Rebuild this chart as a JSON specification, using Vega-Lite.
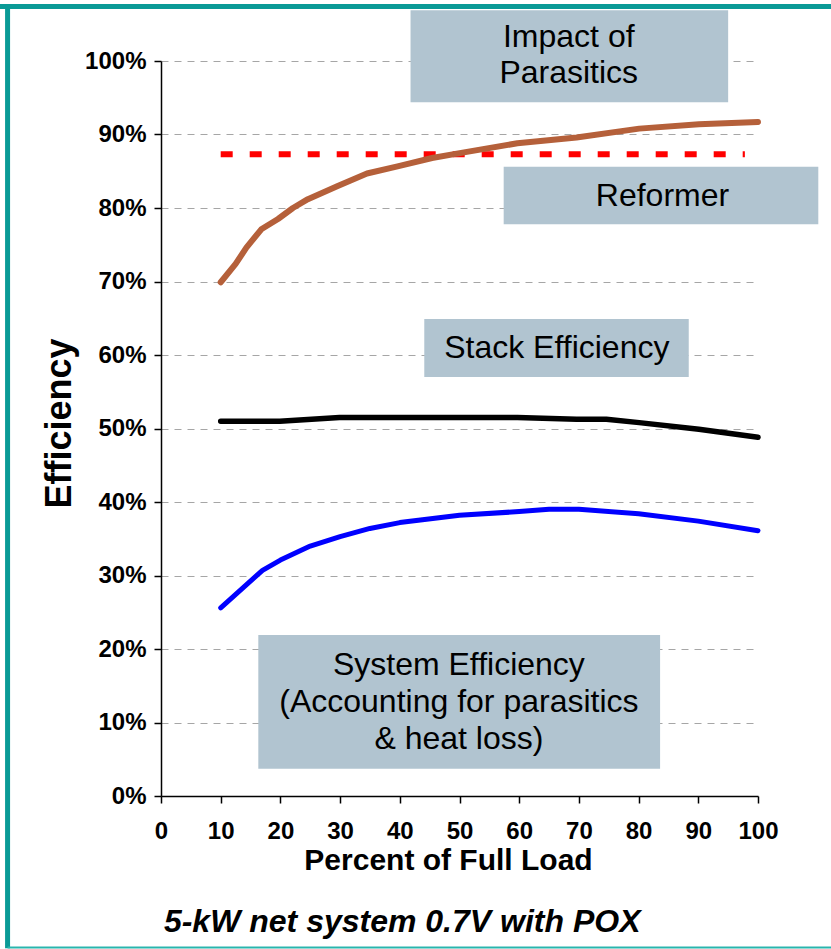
{
  "$schema": "https://vega.github.io/schema/vega-lite/v6.json",
  "width": 597,
  "height": 735,
  "autosize": {"type": "none"},
  "padding": {"left": 161, "top": 61, "right": 73, "bottom": 153},
  "background": "white",
  "config": {
    "view": {"stroke": null},
    "font": "Liberation Sans",
    "axis": {
      "labelFont": "Liberation Sans",
      "labelFontWeight": "bold",
      "labelFontSize": 24,
      "labelColor": "black",
      "domainColor": "black",
      "domainWidth": 1.5,
      "tickColor": "black",
      "tickWidth": 1.5,
      "tickSize": 7,
      "titleFont": "Liberation Sans",
      "titleFontWeight": "bold",
      "titleColor": "black"
    }
  },
  "datasets": {
    "series": [
      {"series": "Reformer", "load": 10, "eff": 69.9},
      {"series": "Reformer", "load": 12.5, "eff": 72.4},
      {"series": "Reformer", "load": 14.3, "eff": 74.6},
      {"series": "Reformer", "load": 16.8, "eff": 77.1},
      {"series": "Reformer", "load": 19.6, "eff": 78.5},
      {"series": "Reformer", "load": 22.1, "eff": 80.0},
      {"series": "Reformer", "load": 24.6, "eff": 81.2},
      {"series": "Reformer", "load": 29.6, "eff": 83.0},
      {"series": "Reformer", "load": 34.5, "eff": 84.7},
      {"series": "Reformer", "load": 39.8, "eff": 85.7},
      {"series": "Reformer", "load": 45.4, "eff": 86.8},
      {"series": "Reformer", "load": 51.0, "eff": 87.6},
      {"series": "Reformer", "load": 59.7, "eff": 88.8},
      {"series": "Reformer", "load": 69.6, "eff": 89.6},
      {"series": "Reformer", "load": 80.1, "eff": 90.8},
      {"series": "Reformer", "load": 90.1, "eff": 91.4},
      {"series": "Reformer", "load": 100, "eff": 91.7},
      {"series": "Stack", "load": 10, "eff": 51.0},
      {"series": "Stack", "load": 19.9, "eff": 51.0},
      {"series": "Stack", "load": 29.9, "eff": 51.5},
      {"series": "Stack", "load": 59.7, "eff": 51.5},
      {"series": "Stack", "load": 69.6, "eff": 51.25},
      {"series": "Stack", "load": 74.6, "eff": 51.25},
      {"series": "Stack", "load": 80.1, "eff": 50.8},
      {"series": "Stack", "load": 90.1, "eff": 49.9},
      {"series": "Stack", "load": 100, "eff": 48.8},
      {"series": "System", "load": 10, "eff": 25.6},
      {"series": "System", "load": 17, "eff": 30.7},
      {"series": "System", "load": 20, "eff": 32.1},
      {"series": "System", "load": 25, "eff": 34.0},
      {"series": "System", "load": 30, "eff": 35.3},
      {"series": "System", "load": 35, "eff": 36.4},
      {"series": "System", "load": 40, "eff": 37.2},
      {"series": "System", "load": 50, "eff": 38.2},
      {"series": "System", "load": 60, "eff": 38.7},
      {"series": "System", "load": 65, "eff": 39.0},
      {"series": "System", "load": 70, "eff": 39.0},
      {"series": "System", "load": 80, "eff": 38.4},
      {"series": "System", "load": 90, "eff": 37.4},
      {"series": "System", "load": 100, "eff": 36.1}
    ],
    "reformerTarget": [
      {"load": 10, "eff": 87.3},
      {"load": 97.8, "eff": 87.3}
    ],
    "boxes": [
      {"box": "Impact", "x1": 41.8, "x2": 95.0, "y1": 106.9, "y2": 94.4},
      {"box": "Reformer", "x1": 57.4, "x2": 110.1, "y1": 85.6, "y2": 77.8},
      {"box": "Stack", "x1": 44.1, "x2": 88.4, "y1": 64.9, "y2": 57.0},
      {"box": "System", "x1": 16.3, "x2": 83.6, "y1": 21.9, "y2": 3.7}
    ],
    "labels": [
      {"text": "Impact of", "x": 68.3, "y": 103.2},
      {"text": "Parasitics", "x": 68.3, "y": 98.4},
      {"text": "Reformer", "x": 84.0, "y": 81.7},
      {"text": "Stack Efficiency", "x": 66.3, "y": 60.9},
      {"text": "System Efficiency", "x": 49.9, "y": 17.8},
      {"text": "(Accounting for parasitics", "x": 49.9, "y": 12.8},
      {"text": "& heat loss)", "x": 49.9, "y": 7.8}
    ],
    "caption": [
      {"text": "5-kW net system 0.7V with POX", "x": 40.4, "y": -18.5}
    ]
  },
  "layer": [
    {
      "data": {"values": [{}]},
      "mark": {"type": "rule", "color": "#0a9a96", "strokeWidth": 5},
      "encoding": {
        "x": {"datum": -27.0, "type": "quantitative", "scale": {"domain": [0, 100], "nice": false}},
        "x2": {"datum": 112.4},
        "y": {"datum": 107.4, "type": "quantitative", "scale": {"domain": [0, 100], "nice": false}}
      }
    },
    {
      "data": {"values": [{}]},
      "mark": {"type": "rule", "color": "#0a9a96", "strokeWidth": 5},
      "encoding": {
        "x": {"datum": -25.7, "type": "quantitative"},
        "y": {"datum": 107.7, "type": "quantitative"},
        "y2": {"datum": -20.7}
      }
    },
    {
      "data": {"values": [{}]},
      "mark": {"type": "rule", "color": "#2ab5ad", "strokeWidth": 2},
      "encoding": {
        "x": {"datum": -25.7, "type": "quantitative"},
        "x2": {"datum": 112.4},
        "y": {"datum": -20.6, "type": "quantitative"}
      }
    },
    {
      "data": {"name": "boxes"},
      "mark": {"type": "rect", "color": "#b1c4d0"},
      "encoding": {
        "x": {
          "field": "x1", "type": "quantitative",
          "scale": {"domain": [0, 100], "nice": false},
          "axis": {
            "title": "Percent of Full Load",
            "titleFontSize": 30,
            "titleX": 287,
            "titleY": 73,
            "titleBaseline": "alphabetic",
            "values": [0, 10, 20, 30, 40, 50, 60, 70, 80, 90, 100],
            "labelPadding": 16,
            "grid": false,
            "labelFlush": false
          }
        },
        "x2": {"field": "x2"},
        "y": {
          "field": "y1", "type": "quantitative",
          "scale": {"domain": [0, 100], "nice": false},
          "axis": {
            "title": "Efficiency",
            "titleFontSize": 36,
            "titleAngle": -90,
            "titleX": -91,
            "titleY": 362,
            "titleAlign": "center",
            "titleBaseline": "alphabetic",
            "values": [0, 10, 20, 30, 40, 50, 60, 70, 80, 90, 100],
            "labelExpr": "datum.value + '%'",
            "labelPadding": 8,
            "labelFlush": false,
            "grid": true,
            "gridColor": "#a6a6a6",
            "gridDash": [7, 6],
            "gridWidth": 1
          }
        },
        "y2": {"field": "y2"}
      }
    },
    {
      "data": {"name": "reformerTarget"},
      "mark": {"type": "line", "color": "#ff0000", "strokeWidth": 6, "strokeDash": [12, 17]},
      "encoding": {
        "x": {"field": "load", "type": "quantitative"},
        "y": {"field": "eff", "type": "quantitative"}
      }
    },
    {
      "data": {"name": "series"},
      "mark": {"type": "line", "strokeCap": "round", "strokeJoin": "round"},
      "encoding": {
        "x": {"field": "load", "type": "quantitative"},
        "y": {"field": "eff", "type": "quantitative"},
        "color": {
          "field": "series", "type": "nominal",
          "scale": {"domain": ["Reformer", "Stack", "System"], "range": ["#b5603a", "#000000", "#0000ff"]},
          "legend": null
        },
        "strokeWidth": {
          "field": "series", "type": "nominal",
          "scale": {"domain": ["Reformer", "Stack", "System"], "range": [6, 5, 5]},
          "legend": null
        }
      }
    },
    {
      "data": {"name": "labels"},
      "mark": {"type": "text", "font": "Liberation Sans", "fontSize": 32, "color": "black", "align": "center", "baseline": "middle"},
      "encoding": {
        "x": {"field": "x", "type": "quantitative"},
        "y": {"field": "y", "type": "quantitative"},
        "text": {"field": "text"}
      }
    },
    {
      "data": {"name": "caption"},
      "mark": {"type": "text", "font": "Liberation Sans", "fontSize": 32, "fontWeight": "bold", "fontStyle": "italic", "color": "black", "align": "center", "baseline": "alphabetic"},
      "encoding": {
        "x": {"field": "x", "type": "quantitative"},
        "y": {"field": "y", "type": "quantitative"},
        "text": {"field": "text"}
      }
    }
  ]
}
